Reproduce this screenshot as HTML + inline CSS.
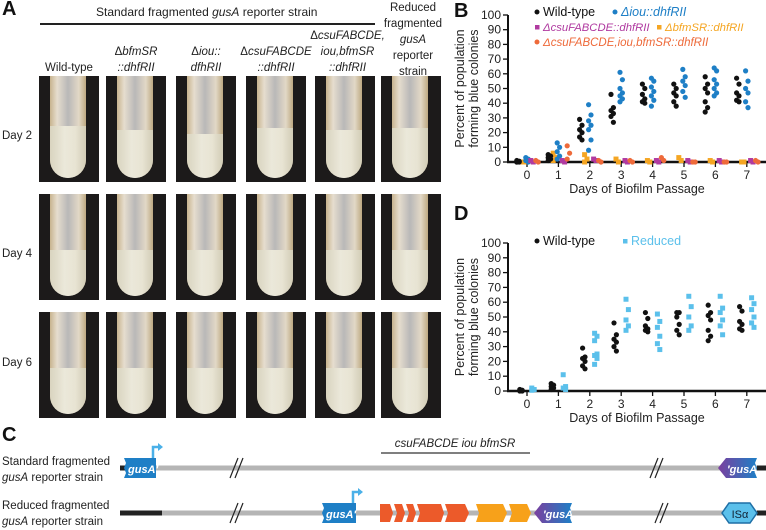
<!DOCTYPE html>
<html><head><meta charset="utf-8">
<style>
body{margin:0;width:766px;height:528px;background:#fff;overflow:hidden;font-family:"Liberation Sans",sans-serif;position:relative}
.t{position:absolute;font-size:11.5px;color:#222;white-space:nowrap}
.c{text-align:center;line-height:16px}
.ph{position:absolute;width:60px;height:106px;background:#1c1a1a;overflow:hidden}
.tube{position:absolute;left:11px;width:36px;top:-4px;bottom:4px;border-radius:0 0 18px 18px;background:linear-gradient(90deg,#c8b48f 0,#e6ddce 20%,#b9b8b8 50%,#e2d8c6 80%,#bda982 100%)}
.liq{position:absolute;left:0;right:0;bottom:0;border-radius:0 0 18px 18px;background:linear-gradient(90deg,#d9d4bf,#ebe8da 40%,#e8e4d3 70%,#d2ccb6)}
.big{position:absolute;font-size:20px;font-weight:bold;color:#111}
</style></head><body>
<div class="big" style="left:2px;top:-2px">A</div>
<div class="t" style="left:96px;top:5px;font-size:12px">Standard fragmented <i>gusA</i> reporter strain</div>
<div style="position:absolute;left:40px;top:23px;width:335px;height:1.5px;background:#222"></div>
<div class="t c" style="left:380px;top:0px;width:66px">Reduced<br>fragmented<br><i>gusA</i><br>reporter<br>strain</div>
<div class="t c" style="left:29px;top:60px;width:80px">Wild-type</div>
<div class="t c" style="left:96px;top:44px;width:80px">Δ<i>bfmSR</i><br><i>::dhfRII</i></div>
<div class="t c" style="left:166px;top:44px;width:80px">Δ<i>iou::</i><br><i>dfhRII</i></div>
<div class="t c" style="left:231px;top:44px;width:90px">Δ<i>csuFABCDE</i><br><i>::dhfRII</i></div>
<div class="t c" style="left:300px;top:28px;width:95px">Δ<i>csuFABCDE,</i><br><i>iou,bfmSR</i><br><i>::dhfRII</i></div>
<div class="t" style="left:2px;top:130px">Day 2</div>
<div class="t" style="left:2px;top:248px">Day 4</div>
<div class="t" style="left:2px;top:357px">Day 6</div>
<div id="photos"></div>

<svg id="svg" width="766" height="528" style="position:absolute;left:0;top:0" font-family="Liberation Sans, sans-serif"></svg>

<div class="big" style="left:454px;top:0px">B</div>
<div class="big" style="left:454px;top:203px">D</div>
<div class="big" style="left:2px;top:424px">C</div>
<div class="t" style="left:2px;top:454px;line-height:16px">Standard fragmented<br><i>gusA</i> reporter strain</div>
<div class="t" style="left:2px;top:498px;line-height:16px">Reduced fragmented<br><i>gusA</i> reporter strain</div>

<script>
// photo grid
const colsX=[39,106,176,246,315,381], rowsY=[76,194,312];
const liqH=[[52,48,44,50,48,50],[46,46,46,46,46,46],[46,46,46,46,46,46]];
const ph=document.getElementById('photos');
rowsY.forEach((y,r)=>colsX.forEach((x,c)=>{
  const d=document.createElement('div');d.className='ph';d.style.left=x+'px';d.style.top=y+'px';
  
  
  d.innerHTML='<div class="tube"><div class="liq" style="height:'+liqH[r][c]+'px"></div></div>';
  ph.appendChild(d);
}));

const NS='http://www.w3.org/2000/svg',svg=document.getElementById('svg');
function el(tag,at,txt){const e=document.createElementNS(NS,tag);for(const k in at)e.setAttribute(k,at[k]);if(txt!==undefined)e.textContent=txt;svg.appendChild(e);return e;}

const days=[0,1,2,3,4,5,6,7];
const yTicks=[0,10,20,30,40,50,60,70,80,90,100];
// Panel B data
const bWild=[[1,0.5,0,0,0],[5,4,3,2,1],[29,25,22,20,17,15],[46,37,35,33,31,27],[53,50,46,43,41,40],[53,50,47,45,41,38],[58,53,50,47,41,37,34],[57,53,47,45,42,41]];
const bIou=[[3,2,1,0],[13,10,7,4,2],[39,32,28,25,22,15,8],[61,56,50,47,45,43,41],[57,55,51,48,45,42,38],[63,58,55,52,48,44],[64,62,56,53,50,47,45],[62,55,50,47,41,37]];
const bCsu=[[1,0],[1,0],[2,1],[1,0],[1,0],[1,0],[1,0],[1,0]];
const bBfm=[[0,0],[6,3,1],[5,2,0],[2,0],[1,0],[3,1],[1,0],[0,0]];
const bTriple=[[1,0],[11,6,2],[1,0],[1,0],[3,1],[0,0],[0,0],[1,0]];
// Panel D data
const dWild=[[1,0.5,0,0],[5,4,3,2,1],[29,23,22,20,17,15],[46,38,35,33,30,27],[53,49,44,42,41,40],[53,53,50,45,41,38],[58,53,51,48,41,37,34],[57,54,47,45,42,41]];
const dReduced=[[2,1,0.5],[11,3,2,1],[39,37,34,25,24,22,18],[62,55,48,44,41],[52,47,43,37,32,28],[64,57,50,44,41],[64,56,53,48,44,38],[63,59,55,50,46,43]];

function chart(cfg){
  const x=d=>527+d*31.4, y=v=>cfg.y0-(cfg.y0-cfg.y100)*v/100;
  el('line',{x1:508,y1:cfg.y100,x2:508,y2:cfg.y0+1,stroke:'#111','stroke-width':2,});
  el('line',{x1:507,y1:cfg.y0,x2:766,y2:cfg.y0,stroke:'#111','stroke-width':2.5,});
  yTicks.forEach(t=>{el('line',{x1:503,x2:508,y1:y(t),y2:y(t),stroke:'#111','stroke-width':1.3});
    el('text',{x:501,y:y(t)+4,'font-size':12,'text-anchor':'end',fill:'#222',},t);});
  days.forEach(d=>{el('line',{x1:x(d),x2:x(d),y1:cfg.y0,y2:cfg.y0+5,stroke:'#111','stroke-width':1.3});
    el('text',{x:x(d),y:cfg.y0+17,'font-size':12,'text-anchor':'middle',fill:'#222',},d);});
  el('text',{x:637,y:cfg.y0+31,'font-size':12.5,'text-anchor':'middle',fill:'#222',},'Days of Biofilm Passage');
  const my=(cfg.y0+cfg.y100)/2;
  const yt=el('text',{transform:`translate(464,${my}) rotate(-90)`,'font-size':12.5,'text-anchor':'middle',fill:'#222',});
  yt.innerHTML='<tspan x="0" dy="0">Percent of population</tspan><tspan x="0" dy="14">forming blue colonies</tspan>';
  cfg.series.forEach(s=>{
    s.data.forEach((vals,d)=>vals.forEach((v,i)=>{
      const cx=x(d)+s.off+(i%2?1.2:-1.2);
      if(s.sq) el('rect',{x:cx-2.5,y:y(v)-2.5,width:5,height:5,fill:s.col,});
      else el('circle',{cx:cx,cy:y(v),r:2.6,fill:s.col,});
    }));
  });
}
chart({y0:162,y100:15,series:[
  {name:'bfmsr',data:bBfm,off:-4,col:'#f5a623',sq:true},
  {name:'wild-type',data:bWild,off:-9,col:'#111'},
  {name:'iou',data:bIou,off:0,col:'#1e7fc6'},
  {name:'csu',data:bCsu,off:5,col:'#b03aa0',sq:true},
  {name:'triple',data:bTriple,off:10,col:'#ee6a3a'}]});
chart({y0:391,y100:243,series:[
  {name:'wild-type',data:dWild,off:-6,col:'#111'},
  {name:'reduced',data:dReduced,off:6,col:'#5bc0eb',sq:true}]});

function legend(x,yy,col,sq,html,name,fs){
  if(sq) el('rect',{x:x-2,y:yy-6,width:4.5,height:4.5,fill:col});
  else el('circle',{cx:x,cy:yy-4,r:2.5,fill:col});
  const t=el('text',{x:x+6,y:yy,'font-size':fs||12.5,fill:col,});
  t.innerHTML=html;
}
legend(537,16,'#111',false,'Wild-type','legend-wild-type');
legend(615,16,'#1e7fc6',false,'<tspan font-style="italic">Δiou::dhfRII</tspan>','legend-iou');
legend(537,31,'#b03aa0',true,'<tspan font-style="italic">ΔcsuFABCDE::dhfRII</tspan>','legend-csu',11.3);
legend(659,31,'#f5a623',true,'<tspan font-style="italic">ΔbfmSR::dhfRII</tspan>','legend-bfmsr',11.3);
legend(537,46,'#ee6a3a',false,'<tspan font-style="italic">ΔcsuFABCDE,iou,bfmSR::dhfRII</tspan>','legend-triple',11.5);
legend(537,245,'#111',false,'Wild-type','legend-wild-type-d');
legend(625,245,'#5bc0eb',true,'Reduced','legend-reduced');

// Panel C
function g(inner,name){const e=el('g',{});e.innerHTML=inner;return e;}
const grad='<defs><linearGradient id="pb" x1="0" x2="1"><stop offset="0" stop-color="#7b3f9e"/><stop offset="1" stop-color="#1e7fc6"/></linearGradient></defs>';
g(grad,'defs');
g('<line x1="120" y1="468" x2="766" y2="468" stroke="#b5b5b5" stroke-width="5"/><line x1="120" y1="468" x2="126" y2="468" stroke="#222" stroke-width="5"/><line x1="757" y1="468" x2="766" y2="468" stroke="#222" stroke-width="5"/>','standard-chromosome');
g('<path d="M124 458 H156 V478 H124 l2 -5 -2 -5 2 -5z" fill="#1e7fc6"/><text x="128" y="473" font-size="11" fill="#fff" font-style="italic" font-weight="bold">gusA′</text><path d="M153 458 V447 H160" stroke="#4ab0e8" stroke-width="2.5" fill="none"/><path d="M158 443 l5 4 -5 4z" fill="#4ab0e8"/>','standard-gusa-left');
g('<path d="M718 468 L726 458 H757 l-2 5 2 5 -2 5 2 5 H726z" fill="url(#pb)"/><text x="727" y="473" font-size="11" fill="#fff" font-style="italic" font-weight="bold">′gusA</text>','standard-gusa-right');
g('<path d="M230 478 l8 -20 M235 478 l8 -20 M650 478 l8 -20 M655 478 l8 -20" stroke="#222" stroke-width="1.2"/>','standard-breaks');
g('<line x1="381" y1="453" x2="530" y2="453" stroke="#333" stroke-width="1.3"/><text x="455" y="447" font-size="11.5" font-style="italic" text-anchor="middle" fill="#222">csuFABCDE iou bfmSR</text>','deleted-region');
g('<line x1="120" y1="513" x2="766" y2="513" stroke="#b5b5b5" stroke-width="5"/><line x1="120" y1="513" x2="162" y2="513" stroke="#222" stroke-width="5"/><line x1="757" y1="513" x2="766" y2="513" stroke="#222" stroke-width="5"/>','reduced-chromosome');
g('<path d="M322 503 H356 V523 H322 l2 -5 -2 -5 2 -5z" fill="#1e7fc6"/><text x="326" y="518" font-size="11" fill="#fff" font-style="italic" font-weight="bold">gusA′</text><path d="M353 503 V492 H360" stroke="#4ab0e8" stroke-width="2.5" fill="none"/><path d="M358 488 l5 4 -5 4z" fill="#4ab0e8"/>','reduced-gusa-left');
g('<path d="M380 504 h10 l3 9 -3 9 h-10z M394 504 h8 l3 9 -3 9 h-8 l3 -9z M406 504 h7 l3 9 -3 9 h-7 l3 -9z M417 504 h24 l3 9 -3 9 h-24 l3 -9z M445 504 h20 l4 9 -4 9 h-20 l3 -9z" fill="#ec5a2a"/>','csu-genes');
g('<path d="M476 504 h27 l4 9 -4 9 h-27 l3 -9z M509 504 h18 l4 9 -4 9 h-18 l3 -9z" fill="#f7a11a"/>','iou-bfmsr-genes');
g('<path d="M534 513 L542 503 H572 l-2 5 2 5 -2 5 2 5 H542z" fill="url(#pb)"/><text x="543" y="518" font-size="11" fill="#fff" font-style="italic" font-weight="bold">′gusA</text>','reduced-gusa-right');
g('<path d="M722 513 L729 503 H750 L757 513 L750 523 H729z" fill="#5bc0eb" stroke="#1e6fa6" stroke-width="1.5"/><text x="740" y="518" font-size="11" fill="#123" text-anchor="middle">ISα</text>','is-alpha');
g('<path d="M230 523 l8 -20 M235 523 l8 -20 M655 523 l8 -20 M660 523 l8 -20" stroke="#222" stroke-width="1.2"/>','reduced-breaks');
</script>
</body></html>
